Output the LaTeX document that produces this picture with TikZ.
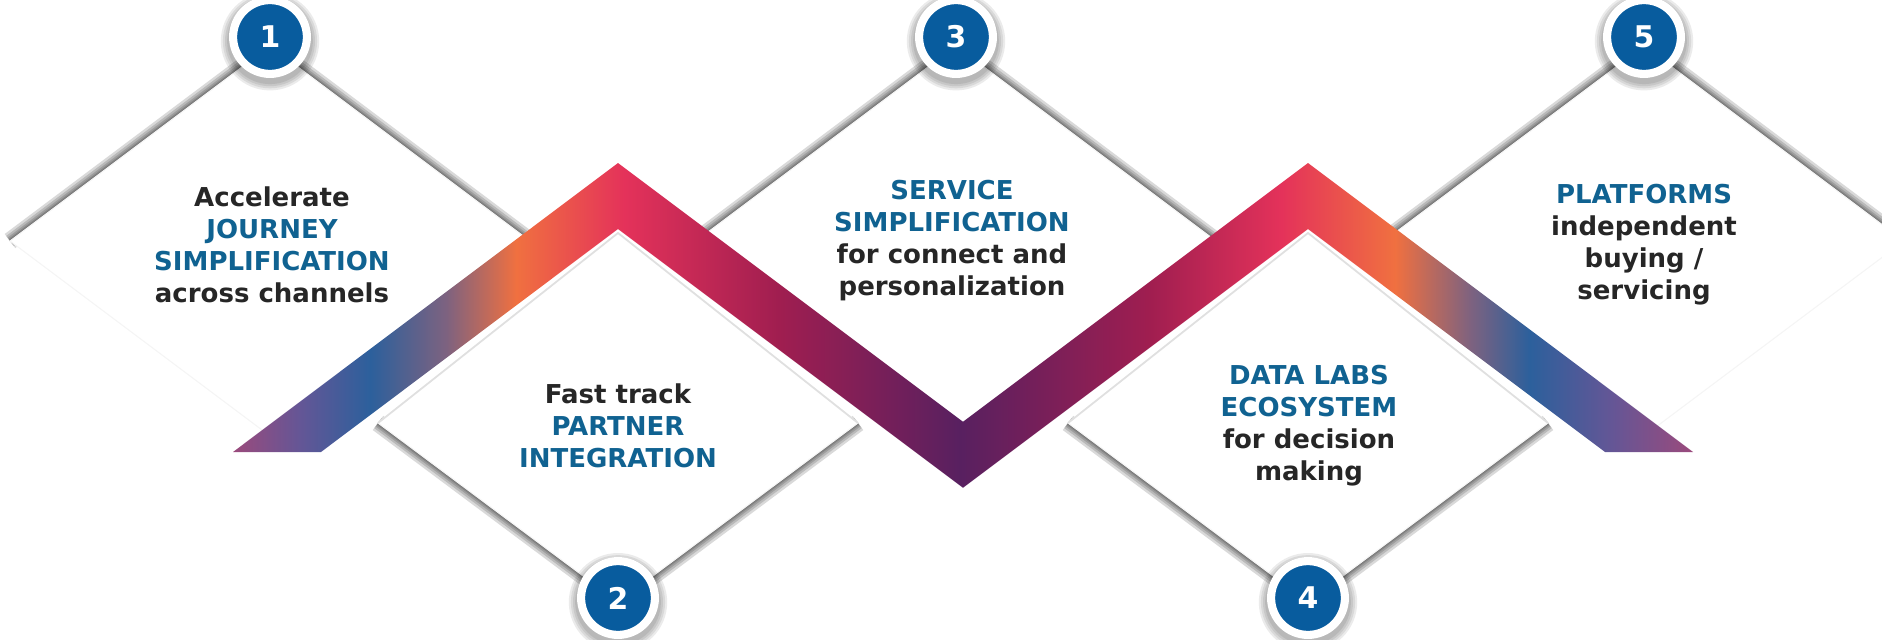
\documentclass[tikz,border=0pt]{standalone}
\usepackage{fontspec}
\setmainfont{DejaVu Sans}

\definecolor{numblue}{RGB}{8,92,158}
\definecolor{headblue}{RGB}{16,98,145}
\definecolor{bodygray}{RGB}{38,38,38}
\definecolor{ribMauve}{RGB}{155,74,124}
\definecolor{ribIndigo}{RGB}{100,86,150}
\definecolor{ribBlue}{RGB}{44,96,156}
\definecolor{ribGrey}{RGB}{125,98,128}
\definecolor{ribOrange}{RGB}{240,112,64}
\definecolor{ribPink}{RGB}{228,50,90}
\definecolor{ribCrimson}{RGB}{160,30,80}
\definecolor{ribPlum}{RGB}{88,32,96}

\pgfdeclarehorizontalshading{ribbon}{100bp}{
  color(0bp)=(ribMauve); color(25bp)=(ribMauve);
  color(27.3bp)=(ribIndigo); color(29.7bp)=(ribBlue);
  color(32.3bp)=(ribGrey); color(34.7bp)=(ribOrange);
  color(38.4bp)=(ribPink); color(43.7bp)=(ribCrimson);
  color(49.9bp)=(ribPlum); color(56.4bp)=(ribCrimson);
  color(60.9bp)=(ribPink); color(64.8bp)=(ribOrange);
  color(67.4bp)=(ribGrey); color(69.4bp)=(ribBlue);
  color(72.2bp)=(ribIndigo); color(75bp)=(ribMauve);
  color(100bp)=(ribMauve)}

\newcommand{\kw}[1]{\textcolor{headblue}{#1}}

\begin{document}
\begin{tikzpicture}[x=0.1mm,y=-0.1mm,
  panel/.style={fill=white,draw=black!4,line width=0.3pt},
  rim/.style={draw=black!12,line width=0.5pt},
  edgeshade/.style={black,opacity=0.15,line join=miter},
  badge/.style={circle,fill=numblue,draw=white,line width=2.3pt,
    minimum size=21pt,inner sep=0pt,text=white,
    font=\fontsize{8.5}{8.5}\selectfont\bfseries},
  caption/.style={align=center,text=bodygray,
    font=\fontsize{7.4}{9.1}\selectfont\bfseries}]
\useasboundingbox (0,0) rectangle (1882,640);
\clip (0,0) rectangle (1882,640);
% panel 1
\foreach \w in {5,3.6,2.4,1.4,0.7}
  \draw[edgeshade,line width=\w pt] (10,241) -- (270,46) -- (530,241);
\draw[panel] (270,46) -- (530,241) -- (270,436) -- (10,241) -- cycle;
% panel 3
\foreach \w in {5,3.6,2.4,1.4,0.7}
  \draw[edgeshade,line width=\w pt] (696,241) -- (956,46) -- (1216,241);
\draw[panel] (956,46) -- (1216,241) -- (956,436) -- (696,241) -- cycle;
% panel 5
\foreach \w in {5,3.6,2.4,1.4,0.7}
  \draw[edgeshade,line width=\w pt] (1384,241) -- (1644,46) -- (1904,241);
\draw[panel] (1644,46) -- (1904,241) -- (1644,436) -- (1384,241) -- cycle;
% ribbon
\shade[shading=ribbon] (233,452) -- (618,163) -- (963,421.75) -- (1308,163)
  -- (1693,452) -- (1605,452) -- (1308,229) -- (963,487.75) -- (618,229)
  -- (321,452) -- cycle;
% panel 2
\foreach \w in {5,3.6,2.4,1.4,0.7}
  \draw[edgeshade,line width=\w pt] (378,423) -- (618,602) -- (858,423);
\draw[panel] (618,233) -- (858,423) -- (618,602) -- (378,423) -- cycle;
\draw[rim] (378,423) -- (618,233) -- (858,423);
% panel 4
\foreach \w in {5,3.6,2.4,1.4,0.7}
  \draw[edgeshade,line width=\w pt] (1068,423) -- (1308,602) -- (1548,423);
\draw[panel] (1308,233) -- (1548,423) -- (1308,602) -- (1068,423) -- cycle;
\draw[rim] (1068,423) -- (1308,233) -- (1548,423);
% badges
\foreach \n/\x/\y in {1/270/37,2/618/598,3/956/37,4/1308/598,5/1644/37}{
  \foreach \r in {12.2,12.8,13.4,14}
    \fill[black,opacity=0.08] ([yshift=-1.2pt]\x,\y) circle (\r pt);
  \node[badge] (b\n) at (\x,\y) {\n};
}
% captions
\node[caption] (t1) at (272,245)
  {Accelerate\\\kw{JOURNEY}\\\kw{SIMPLIFICATION}\\across channels};
\node[caption] (t2) at (618,426) {Fast track\\\kw{PARTNER}\\\kw{INTEGRATION}};
\node[caption] (t3) at (952,241)
  {\kw{SERVICE}\\\kw{SIMPLIFICATION}\\for connect and\\personalization};
\node[caption] (t4) at (1309,426)
  {\kw{DATA LABS}\\\kw{ECOSYSTEM}\\for decision\\making};
\node[caption] (t5) at (1644,245)
  {\kw{PLATFORMS}\\independent\\buying /\\servicing};
\end{tikzpicture}
\end{document}
